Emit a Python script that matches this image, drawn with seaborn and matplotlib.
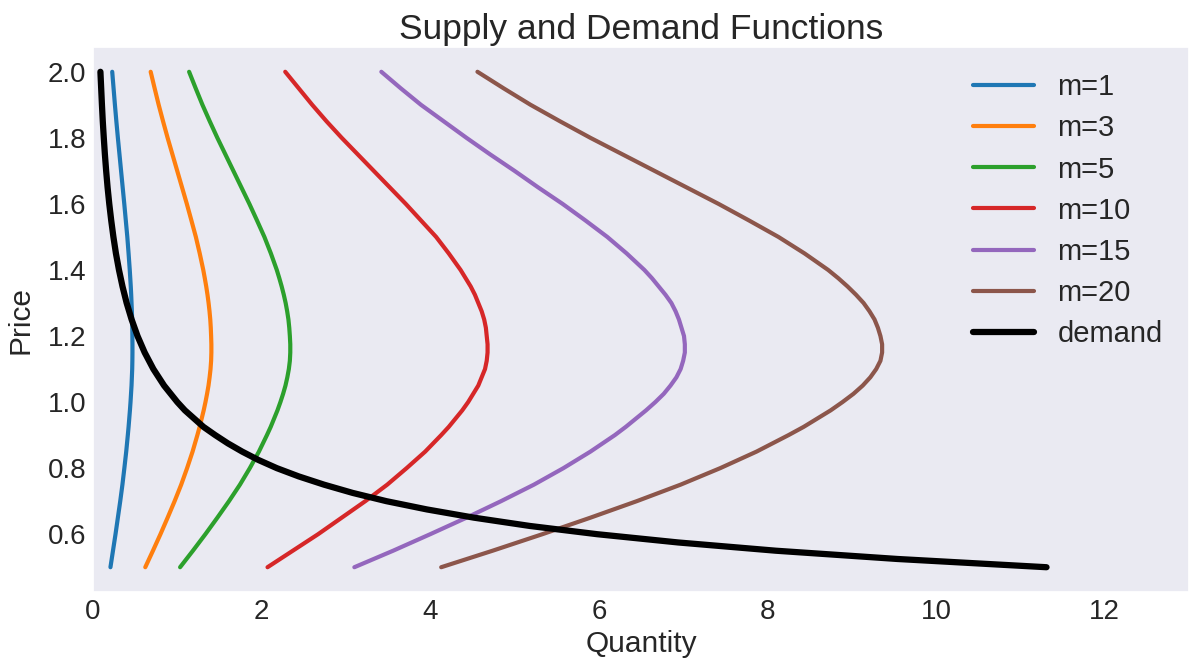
import matplotlib
matplotlib.use("Agg")
import matplotlib.pyplot as plt
import seaborn as sns
import pandas as pd

# Price grid shared by the supply curves (denser around the turning point)
supply_price = [0.50, 0.55, 0.60, 0.65, 0.70, 0.75, 0.80, 0.85, 0.90,
                0.925, 0.95, 0.975, 1.00, 1.025, 1.05, 1.075, 1.10, 1.125,
                1.15, 1.175, 1.20, 1.225, 1.25, 1.275, 1.30, 1.325, 1.35,
                1.375, 1.40, 1.45, 1.50, 1.55, 1.60, 1.65, 1.70, 1.75,
                1.80, 1.85, 1.90, 1.95, 2.00]

supply_m1 = [0.207, 0.237, 0.267, 0.295, 0.323, 0.349, 0.372, 0.394, 0.413,
             0.422, 0.430, 0.438, 0.445, 0.451, 0.457, 0.461, 0.465, 0.467,
             0.468, 0.468, 0.467, 0.466, 0.464, 0.461, 0.457, 0.453, 0.448,
             0.442, 0.436, 0.422, 0.407, 0.389, 0.371, 0.352, 0.333, 0.314,
             0.295, 0.277, 0.260, 0.244, 0.228]
supply_m3 = [0.620, 0.711, 0.800, 0.885, 0.968, 1.046, 1.116, 1.181, 1.238,
             1.265, 1.289, 1.313, 1.334, 1.353, 1.370, 1.383, 1.394, 1.401,
             1.404, 1.404, 1.401, 1.397, 1.391, 1.382, 1.371, 1.358, 1.343,
             1.326, 1.308, 1.266, 1.220, 1.167, 1.113, 1.056, 0.999, 0.942,
             0.885, 0.831, 0.779, 0.731, 0.684]
supply_m5 = [1.033, 1.185, 1.333, 1.475, 1.613, 1.743, 1.860, 1.968, 2.063,
             2.108, 2.148, 2.188, 2.223, 2.255, 2.283, 2.305, 2.323, 2.335,
             2.340, 2.340, 2.335, 2.328, 2.318, 2.303, 2.285, 2.263, 2.238,
             2.210, 2.180, 2.110, 2.033, 1.945, 1.855, 1.760, 1.665, 1.570,
             1.475, 1.385, 1.298, 1.218, 1.140]
supply_m10 = [2.07, 2.37, 2.67, 2.95, 3.23, 3.49, 3.72, 3.94, 4.13,
              4.22, 4.30, 4.38, 4.45, 4.51, 4.57, 4.61, 4.65, 4.67,
              4.68, 4.68, 4.67, 4.66, 4.64, 4.61, 4.57, 4.53, 4.48,
              4.42, 4.36, 4.22, 4.07, 3.89, 3.71, 3.52, 3.33, 3.14,
              2.95, 2.77, 2.60, 2.44, 2.28]
supply_m15 = [3.10, 3.56, 4.00, 4.43, 4.84, 5.23, 5.58, 5.90, 6.19,
              6.32, 6.44, 6.56, 6.67, 6.77, 6.85, 6.92, 6.97, 7.00,
              7.02, 7.02, 7.01, 6.98, 6.95, 6.91, 6.86, 6.79, 6.71,
              6.63, 6.54, 6.33, 6.10, 5.84, 5.57, 5.28, 5.00, 4.71,
              4.43, 4.16, 3.89, 3.65, 3.42]
supply_m20 = [4.13, 4.74, 5.33, 5.90, 6.45, 6.97, 7.44, 7.87, 8.25,
              8.43, 8.59, 8.75, 8.89, 9.02, 9.13, 9.22, 9.29, 9.34,
              9.36, 9.36, 9.34, 9.31, 9.27, 9.21, 9.14, 9.05, 8.95,
              8.84, 8.72, 8.44, 8.13, 7.78, 7.42, 7.04, 6.66, 6.28,
              5.90, 5.54, 5.19, 4.87, 4.56]

supply_labels = ["m=1", "m=3", "m=5", "m=10", "m=15", "m=20"]
supply_series = [supply_m1, supply_m3, supply_m5, supply_m10, supply_m15, supply_m20]

demand_price = [0.500, 0.525, 0.550, 0.575, 0.600, 0.625, 0.650, 0.675,
                0.700, 0.725, 0.750, 0.775, 0.800, 0.825, 0.850, 0.875,
                0.900, 0.925, 0.950, 0.975, 1.00, 1.05, 1.10, 1.15, 1.20,
                1.25, 1.30, 1.35, 1.40, 1.45, 1.50, 1.55, 1.60, 1.65,
                1.70, 1.75, 1.80, 1.85, 1.90, 1.95, 2.00]
demand_qty = [11.31, 9.54, 8.10, 6.94, 5.98, 5.18, 4.52, 3.96,
              3.48, 3.08, 2.74, 2.44, 2.18, 1.96, 1.77, 1.60,
              1.45, 1.31, 1.20, 1.09, 1.00, 0.843, 0.716, 0.613, 0.528,
              0.458, 0.399, 0.350, 0.308, 0.272, 0.242, 0.216, 0.193, 0.173,
              0.156, 0.141, 0.128, 0.116, 0.106, 0.097, 0.088]

sns.set_theme(style="dark")
plt.rcParams["font.family"] = ["Liberation Sans", "DejaVu Sans"]

fig, ax = plt.subplots(figsize=(11.9, 6.63), dpi=100)
fig.subplots_adjust(left=93 / 1190, right=1189 / 1190, top=1 - 47 / 663, bottom=1 - 592 / 663)

palette = sns.color_palette("tab10", len(supply_labels))
for label, qty, color in zip(supply_labels, supply_series, palette):
    df = pd.DataFrame({"Quantity": qty, "Price": supply_price})
    sns.lineplot(data=df, x="Quantity", y="Price", sort=False, estimator=None,
                 color=color, linewidth=3, label=label, ax=ax)

demand_df = pd.DataFrame({"Quantity": demand_qty, "Price": demand_price})
sns.lineplot(data=demand_df, x="Quantity", y="Price", sort=False, estimator=None,
             color="black", linewidth=4.5, label="demand", ax=ax)

ax.set_xlim(0, 13)
ax.set_yticks([0.6, 0.8, 1.0, 1.2, 1.4, 1.6, 1.8, 2.0])
ax.tick_params(axis="both", labelsize=20, length=0, pad=5)
ax.set_xlabel("Quantity", fontsize=21.5, labelpad=4)
ax.set_ylabel("Price", fontsize=21.5, labelpad=9)
ax.set_title("Supply and Demand Functions", fontsize=25.5)
ax.legend(loc="upper right", frameon=False, fontsize=21, handlelength=2.1,
          labelspacing=0.45)

fig.savefig("out.png", dpi=100)
